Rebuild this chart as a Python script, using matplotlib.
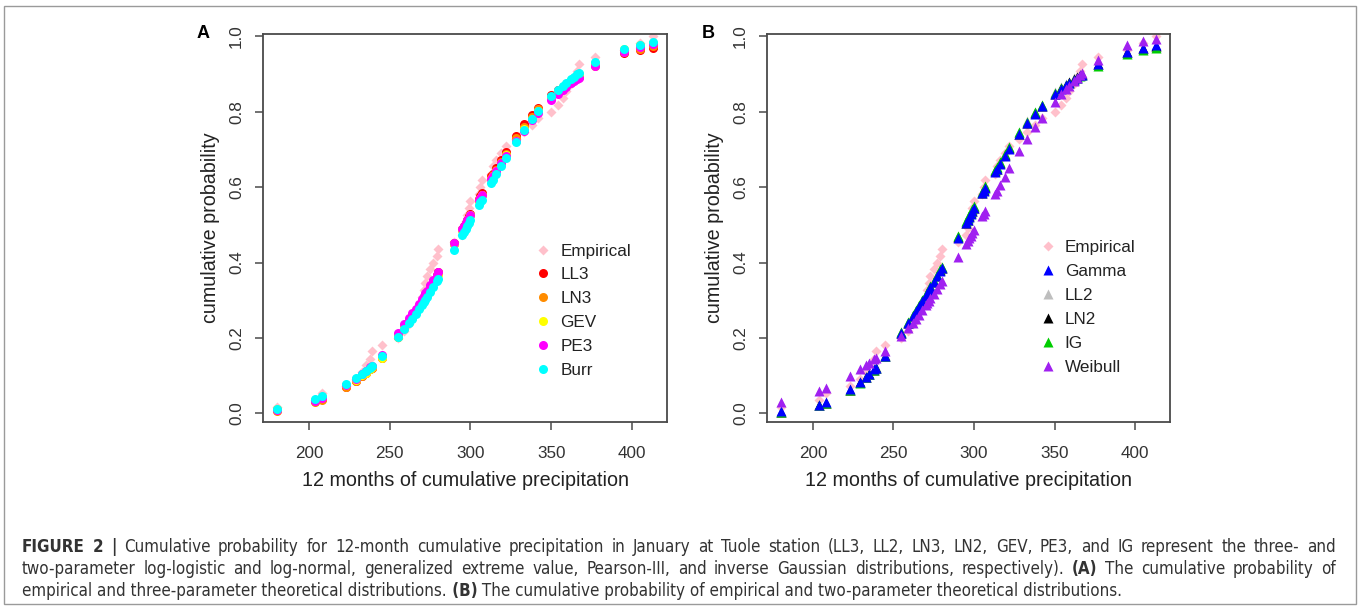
import matplotlib
matplotlib.use("Agg")
import matplotlib.pyplot as plt
from matplotlib.lines import Line2D
from matplotlib.patches import Rectangle
from matplotlib import font_manager
from matplotlib.font_manager import FontProperties

plt.rcParams['font.family'] = ['Liberation Sans', 'DejaVu Sans']

# ---------------- data ----------------
precip = [180, 204, 208, 223, 229, 233, 235, 238, 239, 245,
          255, 259, 262, 264, 266, 268, 270, 271, 272, 273,
          275, 277, 279, 280, 290, 295, 296, 297, 298, 299,
          300, 305, 306, 307, 313, 314, 316, 319, 322, 328,
          333, 338, 342, 350, 354, 357, 359, 362, 364, 366,
          367, 377, 395, 405, 413]

empirical = [0.018, 0.036, 0.055, 0.073, 0.091, 0.109, 0.127, 0.145, 0.164, 0.182,
             0.200, 0.218, 0.236, 0.255, 0.273, 0.291, 0.309, 0.327, 0.345, 0.364,
             0.382, 0.400, 0.418, 0.436, 0.455, 0.473, 0.491, 0.509, 0.527, 0.545,
             0.564, 0.582, 0.600, 0.618, 0.636, 0.655, 0.673, 0.691, 0.709, 0.727,
             0.745, 0.764, 0.782, 0.800, 0.818, 0.836, 0.855, 0.873, 0.891, 0.909,
             0.927, 0.945, 0.964, 0.982, 1.000]

ll3 = [0.009, 0.033, 0.039, 0.071, 0.087, 0.100, 0.107, 0.117, 0.121, 0.148,
       0.203, 0.227, 0.245, 0.258, 0.271, 0.285, 0.299, 0.306, 0.313, 0.321,
       0.336, 0.351, 0.366, 0.374, 0.452, 0.490, 0.498, 0.506, 0.514, 0.522,
       0.529, 0.569, 0.577, 0.584, 0.629, 0.636, 0.651, 0.672, 0.694, 0.736,
       0.766, 0.792, 0.811, 0.843, 0.857, 0.866, 0.872, 0.880, 0.886, 0.891,
       0.893, 0.927, 0.956, 0.963, 0.969]

ln3 = [0.006, 0.030, 0.036, 0.070, 0.087, 0.100, 0.107, 0.117, 0.121, 0.149,
       0.204, 0.228, 0.246, 0.258, 0.271, 0.285, 0.298, 0.305, 0.312, 0.320,
       0.334, 0.349, 0.363, 0.371, 0.449, 0.487, 0.495, 0.503, 0.510, 0.518,
       0.526, 0.565, 0.572, 0.580, 0.624, 0.631, 0.646, 0.667, 0.688, 0.729,
       0.759, 0.786, 0.806, 0.840, 0.855, 0.865, 0.871, 0.880, 0.886, 0.891,
       0.894, 0.922, 0.957, 0.967, 0.974]

gev = [0.011, 0.036, 0.042, 0.074, 0.089, 0.101, 0.108, 0.118, 0.122, 0.148,
       0.202, 0.225, 0.242, 0.254, 0.267, 0.280, 0.294, 0.301, 0.308, 0.315,
       0.330, 0.345, 0.360, 0.368, 0.448, 0.486, 0.494, 0.502, 0.510, 0.518,
       0.525, 0.564, 0.571, 0.579, 0.622, 0.629, 0.643, 0.664, 0.684, 0.723,
       0.753, 0.781, 0.801, 0.838, 0.855, 0.866, 0.873, 0.883, 0.889, 0.896,
       0.899, 0.930, 0.966, 0.977, 0.983]

pe3 = [0.008, 0.034, 0.040, 0.074, 0.091, 0.104, 0.111, 0.122, 0.126, 0.156,
       0.212, 0.236, 0.253, 0.265, 0.278, 0.291, 0.304, 0.311, 0.318, 0.325,
       0.340, 0.354, 0.368, 0.376, 0.452, 0.489, 0.497, 0.504, 0.512, 0.519,
       0.527, 0.565, 0.572, 0.579, 0.622, 0.629, 0.643, 0.663, 0.683, 0.721,
       0.750, 0.777, 0.797, 0.832, 0.847, 0.858, 0.865, 0.875, 0.881, 0.887,
       0.890, 0.921, 0.958, 0.972, 0.980]

burr = [0.012, 0.039, 0.045, 0.079, 0.093, 0.105, 0.111, 0.121, 0.125, 0.152,
        0.203, 0.224, 0.240, 0.251, 0.263, 0.276, 0.288, 0.295, 0.301, 0.308,
        0.322, 0.336, 0.350, 0.357, 0.434, 0.473, 0.481, 0.489, 0.497, 0.504,
        0.512, 0.552, 0.560, 0.567, 0.612, 0.620, 0.635, 0.656, 0.678, 0.720,
        0.752, 0.781, 0.803, 0.841, 0.858, 0.869, 0.876, 0.887, 0.893, 0.899,
        0.903, 0.933, 0.966, 0.978, 0.985]

gamma = [0.005, 0.023, 0.029, 0.064, 0.083, 0.097, 0.105, 0.117, 0.121, 0.152,
         0.213, 0.239, 0.258, 0.271, 0.284, 0.298, 0.312, 0.319, 0.326, 0.334,
         0.348, 0.363, 0.378, 0.385, 0.466, 0.505, 0.513, 0.521, 0.529, 0.536,
         0.544, 0.583, 0.590, 0.598, 0.641, 0.648, 0.662, 0.682, 0.702, 0.740,
         0.769, 0.795, 0.814, 0.846, 0.860, 0.870, 0.876, 0.885, 0.890, 0.896,
         0.898, 0.926, 0.959, 0.970, 0.977]

ll2 = [0.004, 0.022, 0.028, 0.063, 0.082, 0.097, 0.105, 0.117, 0.122, 0.154,
       0.216, 0.242, 0.261, 0.274, 0.287, 0.301, 0.315, 0.322, 0.329, 0.337,
       0.351, 0.366, 0.381, 0.388, 0.469, 0.508, 0.516, 0.524, 0.531, 0.539,
       0.547, 0.586, 0.593, 0.601, 0.644, 0.651, 0.665, 0.686, 0.706, 0.745,
       0.774, 0.800, 0.819, 0.851, 0.865, 0.874, 0.880, 0.888, 0.893, 0.898,
       0.900, 0.926, 0.956, 0.966, 0.972]

ln2 = [0.004, 0.022, 0.028, 0.063, 0.082, 0.096, 0.104, 0.116, 0.121, 0.152,
       0.214, 0.240, 0.259, 0.272, 0.285, 0.299, 0.313, 0.320, 0.327, 0.335,
       0.349, 0.364, 0.379, 0.386, 0.467, 0.506, 0.514, 0.522, 0.530, 0.537,
       0.545, 0.584, 0.591, 0.599, 0.642, 0.649, 0.663, 0.684, 0.704, 0.742,
       0.771, 0.797, 0.816, 0.848, 0.862, 0.872, 0.878, 0.886, 0.892, 0.897,
       0.899, 0.926, 0.957, 0.968, 0.974]

ig = [0.004, 0.021, 0.027, 0.062, 0.081, 0.096, 0.104, 0.116, 0.121, 0.153,
      0.216, 0.242, 0.261, 0.274, 0.287, 0.301, 0.315, 0.322, 0.329, 0.337,
      0.352, 0.367, 0.382, 0.389, 0.471, 0.510, 0.518, 0.526, 0.533, 0.541,
      0.549, 0.588, 0.595, 0.603, 0.646, 0.653, 0.667, 0.687, 0.707, 0.745,
      0.773, 0.799, 0.817, 0.849, 0.862, 0.871, 0.877, 0.885, 0.890, 0.895,
      0.897, 0.922, 0.953, 0.963, 0.970]

weibull = [0.030, 0.060, 0.066, 0.100, 0.117, 0.128, 0.134, 0.143, 0.146, 0.165,
           0.205, 0.225, 0.240, 0.251, 0.262, 0.274, 0.286, 0.292, 0.298, 0.305,
           0.317, 0.330, 0.343, 0.350, 0.415, 0.450, 0.457, 0.464, 0.471, 0.478,
           0.485, 0.522, 0.529, 0.537, 0.582, 0.590, 0.605, 0.628, 0.650, 0.695,
           0.728, 0.760, 0.783, 0.826, 0.846, 0.860, 0.869, 0.882, 0.890, 0.898,
           0.902, 0.936, 0.976, 0.988, 0.994]

x_ticks = [200, 250, 300, 350, 400]
y_ticks = [0.0, 0.2, 0.4, 0.6, 0.8, 1.0]
y_tick_labels = ["0.0", "0.2", "0.4", "0.6", "0.8", "1.0"]
x_label = "12 months of cumulative precipitation"
y_label = "cumulative probability"

series_a = [("LL3", ll3, "#FF0000"), ("LN3", ln3, "#FF8C00"), ("GEV", gev, "#FFFF00"),
            ("PE3", pe3, "#FF00FF"), ("Burr", burr, "#00FFFF")]
series_b = [("Gamma", gamma, "#0000FF"), ("LL2", ll2, "#BEBEBE"), ("LN2", ln2, "#000000"),
            ("IG", ig, "#00CD00"), ("Weibull", weibull, "#A020F0")]
draw_order_b = ["LL2", "LN2", "IG", "Gamma", "Weibull"]

EMP_COLOR = "#FFC0CB"
W, H = 1360, 610

fig = plt.figure(figsize=(W / 100, H / 100), dpi=100)
fig.patch.set_facecolor("white")


def ax_rect(l, r, t, b):
    return [l / W, 1 - b / H, (r - l) / W, (b - t) / H]


def style_axes(ax):
    ax.set_xlim(171.5, 421.7)
    ax.set_ylim(-0.023, 1.006)
    for s in ax.spines.values():
        s.set_color("#4a4a4a")
        s.set_linewidth(1.3)
    ax.set_xticks(x_ticks)
    ax.set_yticks(y_ticks)
    ax.set_yticklabels(y_tick_labels)
    ax.tick_params(axis="both", direction="out", length=5.5, width=1.1,
                   color="#4a4a4a", labelsize=12.3, labelcolor="#333333")
    ax.tick_params(axis="x", pad=12)
    ax.tick_params(axis="y", pad=8, labelrotation=90)
    for lab in ax.get_yticklabels():
        lab.set_va("center")
    ax.set_xlabel(x_label, fontsize=14.2, color="#222222", labelpad=7)
    ax.set_ylabel(y_label, fontsize=14.2, color="#222222", labelpad=7)


LEG_KW = dict(loc="upper left", frameon=False, fontsize=12.3, handlelength=1.0,
              handletextpad=0.5, labelspacing=0.52, borderpad=0, borderaxespad=0)

# ---------- Panel A ----------
axA = fig.add_axes(ax_rect(263, 667, 34, 422))
style_axes(axA)
axA.plot(precip, empirical, linestyle="none", marker="D", ms=5.4,
         color=EMP_COLOR, mec="none")
for name, vals, col in series_a:
    axA.plot(precip, vals, linestyle="none", marker="o", ms=6.5,
             color=col, mec="none")
handlesA = [Line2D([], [], linestyle="none", marker="D", ms=5.4, color=EMP_COLOR, mec="none")]
labelsA = ["Empirical"]
for name, vals, col in series_a:
    handlesA.append(Line2D([], [], linestyle="none", marker="o", ms=6.5, color=col, mec="none"))
    labelsA.append(name)
legA = axA.legend(handlesA, labelsA, bbox_to_anchor=(0.673, 0.460), **LEG_KW)
for t in legA.get_texts():
    t.set_color("#222222")

# ---------- Panel B ----------
axB = fig.add_axes(ax_rect(767, 1170, 34, 422))
style_axes(axB)
axB.plot(precip, empirical, linestyle="none", marker="D", ms=5.4,
         color=EMP_COLOR, mec="none")
lookup_b = {n: (v, c) for n, v, c in series_b}
for name in draw_order_b:
    vals, col = lookup_b[name]
    axB.plot(precip, vals, linestyle="none", marker="^", ms=7.0,
             color=col, mec="none")
handlesB = [Line2D([], [], linestyle="none", marker="D", ms=5.4, color=EMP_COLOR, mec="none")]
labelsB = ["Empirical"]
for name, vals, col in series_b:
    handlesB.append(Line2D([], [], linestyle="none", marker="^", ms=7.0, color=col, mec="none"))
    labelsB.append(name)
legB = axB.legend(handlesB, labelsB, bbox_to_anchor=(0.675, 0.468), **LEG_KW)
for t in legB.get_texts():
    t.set_color("#222222")

# panel letters
fig.text(203 / W, 1 - 33 / H, "A", fontsize=13, fontweight="bold", ha="center", va="center")
fig.text(708 / W, 1 - 33 / H, "B", fontsize=13, fontweight="bold", ha="center", va="center")

# outer frame
fig.add_artist(Rectangle((4 / W, 1 - 604 / H), 1352 / W, 598 / H, transform=fig.transFigure,
                         fill=False, edgecolor="#9a9a9a", linewidth=1.0))

# ---------- caption ----------
cap_lines = [
    [("FIGURE 2 |", "bold"),
     (" Cumulative probability for 12-month cumulative precipitation in January at Tuole station "
      "(LL3, LL2, LN3, LN2, GEV, PE3, and IG represent the three- and", "normal")],
    [("two-parameter log-logistic and log-normal, generalized extreme value, Pearson-III, and "
      "inverse Gaussian distributions, respectively).", "normal"),
     (" (A)", "bold"), (" The cumulative probability of", "normal")],
    [("empirical and three-parameter theoretical distributions.", "normal"),
     (" (B)", "bold"),
     (" The cumulative probability of empirical and two-parameter theoretical distributions.", "normal")],
]
cap_baseline = [552, 574, 596]
cap_justify = [True, True, False]
CAP_LEFT = 22.0
CAP_RIGHT = 1336.0
LAST_LINE_W = 1069.0
TARGET_SIZE = 11.0

renderer = fig.canvas.get_renderer()


def is_sans_regular(f):
    fn = f.fname.lower()
    if "mono" in fn or ("serif" in fn and "sans" not in fn):
        return False
    if "italic" in fn or "oblique" in fn or f.style != "normal":
        return False
    return f.weight in (400, "normal", "regular")


cands = []
by_name = {}
for f in font_manager.fontManager.ttflist:
    by_name.setdefault((f.name, str(f.stretch)), []).append(f)
for (nm, st), fl in by_name.items():
    lname = nm.lower()
    narrowish = ("narrow" in lname or "condensed" in lname or
                 any(("condensed" in x.fname.lower() or "narrow" in x.fname.lower()) for x in fl) or
                 st in ("condensed", "semi-condensed", "extra-condensed"))
    if not narrowish and nm != "Liberation Sans":
        continue
    regs = [x for x in fl if is_sans_regular(x)]
    bolds = [x for x in fl if x.weight in (700, "bold") and x.style == "normal"
             and "italic" not in x.fname.lower()]
    if regs:
        cands.append((regs[0].fname, bolds[0].fname if bolds else None))


def props_for(cand, weight, size):
    regf, boldf = cand
    if weight == "bold":
        if boldf:
            return FontProperties(fname=boldf, size=size)
        return FontProperties(fname=regf, size=size, weight="bold")
    return FontProperties(fname=regf, size=size)


def measure(cand, txt, wt, size):
    t = fig.text(0, 0, txt, fontproperties=props_for(cand, wt, size))
    w = t.get_window_extent(renderer).width
    t.remove()
    return w


def line_width(cand, runs, size):
    return sum(measure(cand, txt, wt, size) for txt, wt in runs)


def fit_size(cand):
    s_last = 10.0 * LAST_LINE_W / line_width(cand, cap_lines[2], 10.0)
    s_max = min(10.0 * (CAP_RIGHT - CAP_LEFT - 12) / line_width(cand, r, 10.0)
                for r in cap_lines[:2])
    return min(0.5 * (s_last + s_max), s_max)


best = None
for c in cands:
    try:
        need = fit_size(c)
    except Exception:
        continue
    score = abs(need - TARGET_SIZE)
    if best is None or score < best[0]:
        best = (score, c, need)

_, cap_cand, cap_size = best


def words_of(runs):
    out = []
    for txt, wt in runs:
        for w in txt.split(" "):
            if w:
                out.append((w, wt))
    return out


for runs, yy, just in zip(cap_lines, cap_baseline, cap_justify):
    if just:
        words = words_of(runs)
        widths = [measure(cap_cand, w, wt, cap_size) for w, wt in words]
        gap = (CAP_RIGHT - CAP_LEFT - sum(widths)) / (len(words) - 1)
        x = CAP_LEFT
        for (w, wt), ww in zip(words, widths):
            fig.text(x / W, 1 - yy / H, w, fontproperties=props_for(cap_cand, wt, cap_size),
                     color="#333333", va="baseline", ha="left")
            x += ww + gap
    else:
        x = CAP_LEFT
        for txt, wt in runs:
            t = fig.text(x / W, 1 - yy / H, txt, fontproperties=props_for(cap_cand, wt, cap_size),
                         color="#333333", va="baseline", ha="left")
            x += t.get_window_extent(renderer).width

fig.savefig("out.png", dpi=100, facecolor="white")
